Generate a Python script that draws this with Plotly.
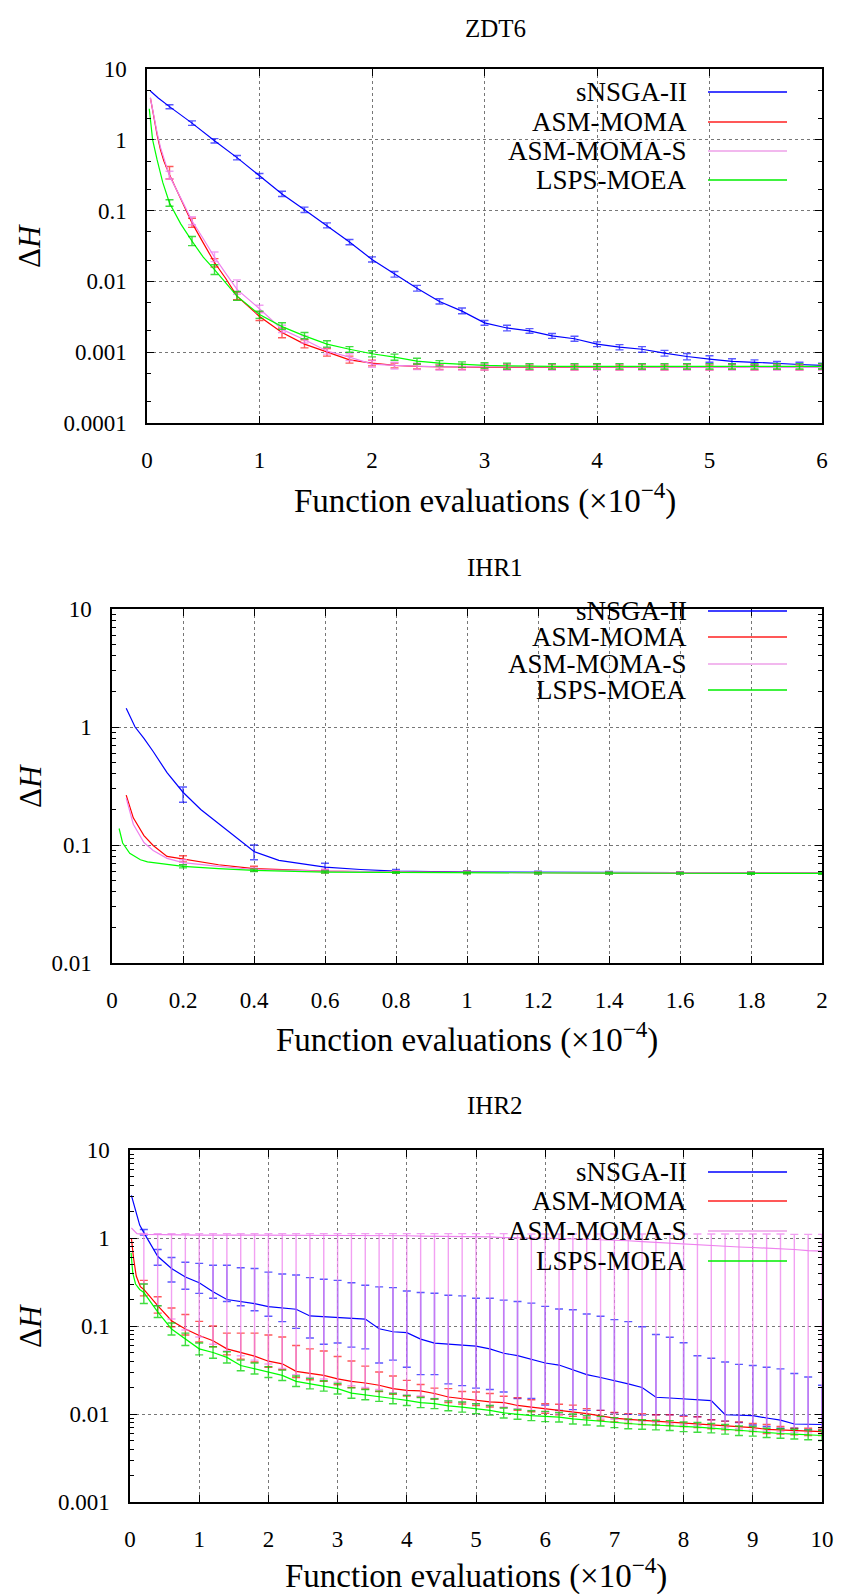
import plotly.graph_objects as go

# ---------------- DATA ----------------
SERIES = ["sNSGA-II", "ASM-MOMA", "ASM-MOMA-S", "LSPS-MOEA"]
TITLES = ["ZDT6", "IHR1", "IHR2"]

# ---- ZDT6 (x in 1e4 evaluations), error bars every 0.2
zdt6_bar_x = [0.2, 0.4, 0.6, 0.8, 1.0, 1.2, 1.4, 1.6, 1.8, 2.0, 2.2, 2.4, 2.6, 2.8, 3.0,
              3.2, 3.4, 3.6, 3.8, 4.0, 4.2, 4.4, 4.6, 4.8, 5.0, 5.2, 5.4, 5.6, 5.8, 6.0]
zdt6_blue_mid = [2.94, 1.72, 0.97, 0.56, 0.31, 0.172, 0.103, 0.0615, 0.036, 0.0204, 0.0126, 0.008, 0.0052, 0.0038, 0.0026,
                 0.0022, 0.002, 0.0017, 0.00155, 0.0013, 0.00118, 0.0011, 0.00097, 0.00087, 0.0008, 0.00074, 0.00072, 0.00069, 0.00067, 0.00065]
zdt6_blue_lo = [2.75, 1.6, 0.9, 0.52, 0.285, 0.158, 0.094, 0.057, 0.033, 0.0188, 0.0115, 0.0073, 0.0048, 0.0035, 0.0024,
                0.002, 0.00185, 0.00157, 0.00143, 0.0012, 0.00108, 0.001, 0.00088, 0.00078, 0.00072, 0.00067, 0.00066, 0.00064, 0.00062, 0.0006]
zdt6_blue_hi = [3.12, 1.85, 1.04, 0.6, 0.335, 0.188, 0.112, 0.067, 0.039, 0.0222, 0.0138, 0.0088, 0.0057, 0.0042, 0.0028,
                0.0024, 0.00215, 0.00184, 0.00168, 0.0014, 0.00128, 0.0012, 0.00106, 0.00096, 0.00089, 0.00081, 0.00078, 0.00074, 0.00072, 0.0007]
zdt6_blue_ex_x = [0.03, 0.1]
zdt6_blue_ex_y = [4.9, 3.9]

zdt6_red_mid = [0.32, 0.067, 0.0185, 0.0062, 0.0032, 0.0019, 0.0013, 0.001, 0.00078, 0.0007, 0.00065, 0.00063, 0.00062, 0.00062, 0.00061,
                0.00061, 0.00061, 0.00061, 0.00061, 0.00061, 0.00061, 0.00061, 0.00061, 0.00061, 0.00061, 0.00061, 0.00061, 0.00061, 0.00061, 0.00061]
zdt6_red_lo = [0.28, 0.058, 0.016, 0.0055, 0.0028, 0.0016, 0.00115, 0.00088, 0.0007, 0.00064, 0.0006, 0.00058, 0.00057, 0.00057, 0.00056,
               0.00057, 0.00056, 0.00057, 0.00056, 0.00057, 0.00056, 0.00057, 0.00056, 0.00057, 0.00056, 0.00057, 0.00056, 0.00057, 0.00056, 0.00057]
zdt6_red_hi = [0.42, 0.078, 0.021, 0.0071, 0.0037, 0.0022, 0.0015, 0.00113, 0.00088, 0.00077, 0.0007, 0.00068, 0.00067, 0.00067, 0.00066,
               0.00067, 0.00066, 0.00067, 0.00066, 0.00067, 0.00066, 0.00067, 0.00066, 0.00067, 0.00066, 0.00067, 0.00066, 0.00067, 0.00066, 0.00067]
zdt6_red_ex_x = [0.03, 0.06, 0.09, 0.12, 0.15, 0.3, 0.5, 0.7]
zdt6_red_ex_y = [3.9, 2.0, 1.17, 0.72, 0.5, 0.143, 0.035, 0.011]

zdt6_pink_mid = [0.31, 0.072, 0.022, 0.0077, 0.0041, 0.0021, 0.0015, 0.00104, 0.00085, 0.00068, 0.00065, 0.00063, 0.00062, 0.00062, 0.00062,
                 0.00062, 0.00061, 0.00061, 0.00061, 0.00061, 0.00061, 0.00061, 0.00061, 0.00061, 0.00061, 0.00061, 0.00061, 0.00061, 0.00061, 0.00061]
zdt6_pink_lo = [0.28, 0.063, 0.019, 0.0066, 0.0036, 0.0019, 0.00135, 0.00094, 0.00076, 0.00061, 0.00058, 0.00057, 0.00056, 0.00056, 0.00056,
                0.00056, 0.00056, 0.00056, 0.00056, 0.00056, 0.00056, 0.00056, 0.00056, 0.00056, 0.00056, 0.00056, 0.00056, 0.00056, 0.00056, 0.00056]
zdt6_pink_hi = [0.36, 0.082, 0.026, 0.0105, 0.0046, 0.0024, 0.0017, 0.00116, 0.00095, 0.00076, 0.00072, 0.0007, 0.00068, 0.00068, 0.00068,
                0.00068, 0.00068, 0.00068, 0.00068, 0.00068, 0.00068, 0.00068, 0.00068, 0.00068, 0.00068, 0.00068, 0.00068, 0.00068, 0.00068, 0.00068]
zdt6_pink_ex_x = [0.03, 0.06, 0.09, 0.12, 0.15, 0.3, 0.5, 0.7]
zdt6_pink_ex_y = [3.9, 2.1, 1.25, 0.78, 0.55, 0.15, 0.04, 0.013]

zdt6_green_mid = [0.128, 0.037, 0.0147, 0.0062, 0.0034, 0.0023, 0.0017, 0.0013, 0.0011, 0.00095, 0.00085, 0.00075, 0.0007, 0.00067, 0.00065,
                  0.00064, 0.00063, 0.00063, 0.00063, 0.00063, 0.00063, 0.00063, 0.00063, 0.00063, 0.00063, 0.00063, 0.00063, 0.00063, 0.00063, 0.00063]
zdt6_green_lo = [0.115, 0.032, 0.0125, 0.0054, 0.003, 0.0021, 0.00155, 0.00118, 0.001, 0.00086, 0.00077, 0.00068, 0.00064, 0.00061, 0.00059,
                 0.00058, 0.00058, 0.00058, 0.00058, 0.00058, 0.00058, 0.00058, 0.00058, 0.00058, 0.00058, 0.00058, 0.00058, 0.00058, 0.00058, 0.00058]
zdt6_green_hi = [0.142, 0.043, 0.0172, 0.0072, 0.0038, 0.0026, 0.0019, 0.00145, 0.0012, 0.00105, 0.00094, 0.00082, 0.00076, 0.00073, 0.00071,
                 0.0007, 0.00069, 0.00069, 0.00069, 0.00069, 0.00069, 0.00069, 0.00069, 0.00069, 0.00069, 0.00069, 0.00069, 0.00069, 0.00069, 0.00069]
zdt6_green_ex_x = [0.02, 0.05, 0.09, 0.14, 0.3, 0.5, 0.7]
zdt6_green_ex_y = [2.75, 1.0, 0.52, 0.25, 0.065, 0.022, 0.0095]

# ---- IHR1, error bars every 0.2
ihr1_bar_x = [0.2, 0.4, 0.6, 0.8, 1.0, 1.2, 1.4, 1.6, 1.8, 2.0]
ihr1_blue_mid = [0.28, 0.088, 0.065, 0.06, 0.059, 0.0588, 0.0585, 0.0583, 0.058, 0.058]
ihr1_blue_lo = [0.23, 0.075, 0.061, 0.058, 0.0575, 0.0575, 0.0573, 0.0572, 0.057, 0.057]
ihr1_blue_hi = [0.31, 0.1, 0.07, 0.062, 0.0605, 0.06, 0.0597, 0.0595, 0.059, 0.059]
ihr1_blue_ex_x = [0.04, 0.065, 0.09, 0.116, 0.155, 0.25, 0.31, 0.37, 0.47, 0.55, 0.7]
ihr1_blue_ex_y = [1.44, 1.0, 0.8, 0.62, 0.41, 0.2, 0.143, 0.103, 0.074, 0.068, 0.062]
ihr1_red_mid = [0.076, 0.063, 0.06, 0.059, 0.0585, 0.0583, 0.058, 0.058, 0.058, 0.058]
ihr1_red_lo = [0.072, 0.06, 0.058, 0.0575, 0.0572, 0.057, 0.057, 0.057, 0.057, 0.057]
ihr1_red_hi = [0.081, 0.066, 0.062, 0.0605, 0.06, 0.0595, 0.059, 0.059, 0.059, 0.059]
ihr1_red_ex_x = [0.04, 0.06, 0.09, 0.116, 0.155, 0.3]
ihr1_red_ex_y = [0.265, 0.17, 0.12, 0.099, 0.08, 0.068]
ihr1_pink_mid = [0.071, 0.062, 0.06, 0.059, 0.0585, 0.0583, 0.058, 0.058, 0.058, 0.058]
ihr1_pink_lo = [0.068, 0.06, 0.058, 0.0575, 0.0572, 0.057, 0.057, 0.057, 0.057, 0.057]
ihr1_pink_hi = [0.075, 0.064, 0.062, 0.0605, 0.06, 0.0595, 0.059, 0.059, 0.059, 0.059]
ihr1_pink_ex_x = [0.04, 0.06, 0.09, 0.116, 0.155, 0.3]
ihr1_pink_ex_y = [0.25, 0.15, 0.105, 0.09, 0.077, 0.066]
ihr1_green_mid = [0.066, 0.061, 0.059, 0.0585, 0.058, 0.0578, 0.0577, 0.0576, 0.0575, 0.0575]
ihr1_green_lo = [0.064, 0.0595, 0.0578, 0.0575, 0.057, 0.0568, 0.0567, 0.0566, 0.0565, 0.0565]
ihr1_green_hi = [0.068, 0.0625, 0.0602, 0.0595, 0.059, 0.0588, 0.0587, 0.0586, 0.0585, 0.0585]
ihr1_green_ex_x = [0.02, 0.03, 0.05, 0.08, 0.1, 0.3]
ihr1_green_ex_y = [0.138, 0.104, 0.085, 0.075, 0.072, 0.063]

# ---- IHR2, error bars every 0.2
ihr2_bar_x = [0.2, 0.4, 0.6, 0.8, 1.0, 1.2, 1.4, 1.6, 1.8, 2.0, 2.2, 2.4, 2.6, 2.8, 3.0, 3.2, 3.4, 3.6, 3.8, 4.0,
              4.2, 4.4, 4.6, 4.8, 5.0, 5.2, 5.4, 5.6, 5.8, 6.0, 6.2, 6.4, 6.6, 6.8, 7.0, 7.2, 7.4, 7.6, 7.8, 8.0,
              8.2, 8.4, 8.6, 8.8, 9.0, 9.2, 9.4, 9.6, 9.8, 10.0]
ihr2_blue_mid = [1.15, 0.62, 0.45, 0.36, 0.31, 0.245, 0.2, 0.19, 0.18, 0.166, 0.16, 0.155, 0.13, 0.128, 0.126, 0.124, 0.12, 0.093, 0.086, 0.084,
                 0.071, 0.064, 0.062, 0.06, 0.059, 0.055, 0.049, 0.046, 0.042, 0.038, 0.036, 0.032, 0.028, 0.026, 0.024, 0.022, 0.02, 0.0155, 0.0152, 0.0148,
                 0.0145, 0.0142, 0.0098, 0.0097, 0.0096, 0.009, 0.0085, 0.0077, 0.0076, 0.0076]
ihr2_blue_hi = [1.25, 0.74, 0.60, 0.53, 0.515, 0.49, 0.49, 0.46, 0.45, 0.41, 0.39, 0.38, 0.355, 0.34, 0.33, 0.31, 0.29, 0.278, 0.273, 0.25,
                0.24, 0.236, 0.224, 0.22, 0.207, 0.207, 0.197, 0.19, 0.182, 0.167, 0.156, 0.153, 0.137, 0.129, 0.118, 0.112, 0.098, 0.08, 0.0745, 0.0645,
                0.046, 0.043, 0.039, 0.0366, 0.0356, 0.034, 0.0326, 0.0288, 0.0263, 0.0212]
ihr2_blue_lo = [1.08, 0.49, 0.316, 0.262, 0.235, 0.207, 0.19, 0.17, 0.149, 0.129, 0.112, 0.094, 0.073, 0.062, 0.064, 0.0575, 0.055, 0.038, 0.041, 0.034,
                0.028, 0.028, 0.022, 0.021, 0.0197, 0.019, 0.0178, 0.015, 0.015, 0.0126, 0.011, 0.0112, 0.011, 0.011, 0.0103, 0.0099, 0.0097, 0.0098, 0.0098, 0.0096,
                0.0093, 0.0086, 0.0083, 0.008, 0.0075, 0.0072, 0.0069, 0.0069, 0.0066, 0.0065]
ihr2_blue_ex_x = [0.02, 0.08, 0.14]
ihr2_blue_ex_y = [3.05, 2.0, 1.4]

ihr2_red_mid = [0.26, 0.17, 0.115, 0.0925, 0.078, 0.068, 0.055, 0.0495, 0.0454, 0.0398, 0.0372, 0.0305, 0.0287, 0.0275, 0.0251, 0.0235, 0.0225, 0.0212, 0.0194, 0.0186,
                0.0183, 0.0171, 0.0156, 0.015, 0.0143, 0.0137, 0.0135, 0.0125, 0.012, 0.0115, 0.011, 0.0105, 0.0101, 0.0095, 0.009, 0.0087, 0.0085, 0.0083, 0.0082, 0.008,
                0.0078, 0.0076, 0.0074, 0.0072, 0.007, 0.0067, 0.0066, 0.0065, 0.0064, 0.0063]
ihr2_red_hi = [0.33, 0.215, 0.16, 0.135, 0.113, 0.1, 0.083, 0.083, 0.083, 0.079, 0.075, 0.06, 0.055, 0.052, 0.045, 0.04, 0.035, 0.03, 0.027, 0.0241,
               0.0216, 0.0197, 0.0194, 0.018, 0.0178, 0.0171, 0.0159, 0.0153, 0.0145, 0.0131, 0.0129, 0.0126, 0.0115, 0.011, 0.0104, 0.0101, 0.0101, 0.0098, 0.0098, 0.0094,
               0.0093, 0.0086, 0.0083, 0.0081, 0.0078, 0.0076, 0.0072, 0.0069, 0.0069, 0.0067]
ihr2_red_lo = [0.22, 0.14, 0.098, 0.079, 0.066, 0.058, 0.047, 0.042, 0.039, 0.034, 0.032, 0.026, 0.0245, 0.0235, 0.0215, 0.02, 0.0192, 0.018, 0.0167, 0.016,
               0.0157, 0.0147, 0.0135, 0.013, 0.0125, 0.012, 0.0118, 0.011, 0.0106, 0.0102, 0.0098, 0.0094, 0.009, 0.0085, 0.0081, 0.0078, 0.0076, 0.0075, 0.0074, 0.0072,
               0.007, 0.0068, 0.0066, 0.0065, 0.0063, 0.006, 0.0059, 0.0058, 0.0057, 0.0057]
ihr2_red_ex_x = [0.02, 0.05, 0.09, 0.15]
ihr2_red_ex_y = [1.0, 0.6, 0.37, 0.28]

ihr2_pink_mid = [1.1, 1.09, 1.09, 1.08, 1.08, 1.08, 1.08, 1.07, 1.07, 1.07, 1.07, 1.07, 1.07, 1.06, 1.06, 1.06, 1.06, 1.06, 1.06, 1.06,
                 1.05, 1.05, 1.05, 1.05, 1.05, 1.03, 1.01, 1.0, 1.0, 1.0, 0.99, 0.98, 0.97, 0.96, 0.95, 0.93, 0.91, 0.89, 0.87, 0.86,
                 0.84, 0.82, 0.81, 0.79, 0.78, 0.77, 0.75, 0.74, 0.72, 0.71]
ihr2_pink_hi = [1.13, 1.12, 1.12, 1.12, 1.12, 1.12, 1.12, 1.12, 1.12, 1.12, 1.12, 1.12, 1.12, 1.12, 1.12, 1.12, 1.12, 1.12, 1.12, 1.12,
                1.12, 1.12, 1.12, 1.12, 1.12, 1.12, 1.12, 1.11, 1.11, 1.11, 1.11, 1.11, 1.11, 1.11, 1.11, 1.11, 1.11, 1.11, 1.11, 1.11,
                1.11, 1.11, 1.11, 1.11, 1.11, 1.11, 1.11, 1.1, 1.1, 1.1]
ihr2_pink_lo = [0.3, 0.17, 0.12, 0.09, 0.075, 0.062, 0.052, 0.046, 0.041, 0.037, 0.033, 0.028, 0.026, 0.025, 0.023, 0.021, 0.02, 0.019, 0.0175, 0.0165,
                0.016, 0.015, 0.014, 0.0135, 0.013, 0.0125, 0.012, 0.0115, 0.011, 0.0105, 0.01, 0.0097, 0.0094, 0.009, 0.0087, 0.0084, 0.0082, 0.008, 0.0078, 0.0076,
                0.0074, 0.0072, 0.007, 0.0068, 0.0066, 0.0064, 0.0063, 0.0062, 0.0061, 0.006]
ihr2_pink_ex_x = [0.02, 0.1]
ihr2_pink_ex_y = [1.3, 1.12]

ihr2_green_mid = [0.24, 0.145, 0.0925, 0.071, 0.055, 0.05, 0.044, 0.0356, 0.0327, 0.030, 0.0275, 0.0235, 0.0221, 0.0208, 0.0194, 0.0173, 0.0166, 0.0159, 0.015, 0.0143,
                  0.0135, 0.0131, 0.0124, 0.012, 0.0115, 0.011, 0.0103, 0.0099, 0.0096, 0.0094, 0.0092, 0.0088, 0.0085, 0.0083, 0.008, 0.0078, 0.0076, 0.0075, 0.0074, 0.0072,
                  0.0071, 0.0069, 0.0067, 0.0065, 0.0064, 0.0061, 0.006, 0.0059, 0.0058, 0.0057]
ihr2_green_hi = [0.3, 0.17, 0.108, 0.083, 0.064, 0.058, 0.051, 0.041, 0.038, 0.0345, 0.0315, 0.027, 0.0254, 0.0239, 0.0222, 0.0198, 0.019, 0.0182, 0.0171, 0.0163,
                 0.0154, 0.0149, 0.0141, 0.0137, 0.0131, 0.0125, 0.0117, 0.0113, 0.0109, 0.0107, 0.0104, 0.01, 0.0096, 0.0094, 0.0091, 0.0088, 0.0086, 0.0085, 0.0084, 0.0081,
                 0.008, 0.0078, 0.0076, 0.0073, 0.0072, 0.0069, 0.0068, 0.0067, 0.0066, 0.0065]
ihr2_green_lo = [0.18, 0.125, 0.079, 0.06, 0.047, 0.043, 0.038, 0.031, 0.0285, 0.026, 0.024, 0.0205, 0.0193, 0.0182, 0.0169, 0.0151, 0.0145, 0.0139, 0.0131, 0.0125,
                 0.0118, 0.0115, 0.0109, 0.0105, 0.0101, 0.0097, 0.009, 0.0087, 0.0084, 0.0082, 0.0081, 0.0077, 0.0075, 0.0073, 0.007, 0.0068, 0.0067, 0.0066, 0.0065, 0.0063,
                 0.0062, 0.0061, 0.0059, 0.0057, 0.0056, 0.0054, 0.0053, 0.0052, 0.0051, 0.005]
ihr2_green_ex_x = [0.015, 0.04, 0.08, 0.14]
ihr2_green_ex_y = [0.68, 0.4, 0.3, 0.26]

zdt6_x_ticks = [0, 1, 2, 3, 4, 5, 6]
ihr1_x_ticks = [0, 0.2, 0.4, 0.6, 0.8, 1, 1.2, 1.4, 1.6, 1.8, 2]
ihr2_x_ticks = [0, 1, 2, 3, 4, 5, 6, 7, 8, 9, 10]
zdt6_y_ticks = [0.0001, 0.001, 0.01, 0.1, 1, 10]
ihr1_y_ticks = [0.01, 0.1, 1, 10]
ihr2_y_ticks = [0.001, 0.01, 0.1, 1, 10]

# ---------------- STYLE ----------------
W, H = 843, 1594
FONT = "Liberation Serif"
LINE_COL = ["#0000ff", "#ff0000", "#ee82ee", "#00ff00"]
BAR_COL = ["rgba(0,0,255,0.65)", "rgba(255,0,0,0.65)", "rgba(238,130,238,0.75)", "rgba(0,210,0,0.75)"]
LEG_COL = ["#0000ff", "#ff2020", "#f2b8ee", "#00ee00"]

# panel pixel boxes: (left, right, top, bottom)
BOXES = [(147, 822, 69, 423), (112, 822, 609, 963), (130, 822, 1150, 1502)]
TITLE_Y = [28, 567, 1105]
XTITLE_Y = [498, 1037, 1573]
LEGEND_ROWS = [[92, 122, 151, 180], [611, 637, 664, 690], [1172, 1201, 1231, 1261]]


def px(x):
    return x / W


def py(y):
    return 1 - y / H


def fmt_tick(v):
    return ("%.4f" % v).rstrip("0").rstrip(".")


panels = [
    dict(bar_x=zdt6_bar_x, xr=[0, 6], yr=[-4, 1], xt=zdt6_x_ticks, yt=zdt6_y_ticks, minor="D2",
         data=[(zdt6_blue_ex_x, zdt6_blue_ex_y, zdt6_blue_mid, zdt6_blue_lo, zdt6_blue_hi),
               (zdt6_red_ex_x, zdt6_red_ex_y, zdt6_red_mid, zdt6_red_lo, zdt6_red_hi),
               (zdt6_pink_ex_x, zdt6_pink_ex_y, zdt6_pink_mid, zdt6_pink_lo, zdt6_pink_hi),
               (zdt6_green_ex_x, zdt6_green_ex_y, zdt6_green_mid, zdt6_green_lo, zdt6_green_hi)]),
    dict(bar_x=ihr1_bar_x, xr=[0, 2], yr=[-2, 1], xt=ihr1_x_ticks, yt=ihr1_y_ticks, minor="D1",
         data=[(ihr1_blue_ex_x, ihr1_blue_ex_y, ihr1_blue_mid, ihr1_blue_lo, ihr1_blue_hi),
               (ihr1_red_ex_x, ihr1_red_ex_y, ihr1_red_mid, ihr1_red_lo, ihr1_red_hi),
               (ihr1_pink_ex_x, ihr1_pink_ex_y, ihr1_pink_mid, ihr1_pink_lo, ihr1_pink_hi),
               (ihr1_green_ex_x, ihr1_green_ex_y, ihr1_green_mid, ihr1_green_lo, ihr1_green_hi)]),
    dict(bar_x=ihr2_bar_x, xr=[0, 10], yr=[-3, 1], xt=ihr2_x_ticks, yt=ihr2_y_ticks, minor="D1",
         data=[(ihr2_blue_ex_x, ihr2_blue_ex_y, ihr2_blue_mid, ihr2_blue_lo, ihr2_blue_hi),
               (ihr2_red_ex_x, ihr2_red_ex_y, ihr2_red_mid, ihr2_red_lo, ihr2_red_hi),
               (ihr2_pink_ex_x, ihr2_pink_ex_y, ihr2_pink_mid, ihr2_pink_lo, ihr2_pink_hi),
               (ihr2_green_ex_x, ihr2_green_ex_y, ihr2_green_mid, ihr2_green_lo, ihr2_green_hi)]),
]

fig = go.Figure()
annotations = []
shapes = []

for p_i, p in enumerate(panels):
    sfx = "" if p_i == 0 else str(p_i + 1)
    xa, ya = "x" + sfx, "y" + sfx
    bx = p["bar_x"]
    for s_i, (ex_x, ex_y, mid, lo, hi) in enumerate(p["data"]):
        pts = sorted(zip(list(ex_x) + list(bx), list(ex_y) + list(mid)))
        fig.add_trace(go.Scatter(
            x=[a for a, _ in pts], y=[b for _, b in pts], mode="lines",
            line=dict(color=LINE_COL[s_i], width=1.2), xaxis=xa, yaxis=ya,
            showlegend=False, name=SERIES[s_i], hoverinfo="skip"))
        fig.add_trace(go.Scatter(
            x=bx, y=mid, mode="markers", marker=dict(size=1, opacity=0),
            error_y=dict(type="data", symmetric=False,
                         array=[h - m for h, m in zip(hi, mid)],
                         arrayminus=[m - l for m, l in zip(mid, lo)],
                         color=BAR_COL[s_i], thickness=1.4, width=4),
            xaxis=xa, yaxis=ya, showlegend=False, hoverinfo="skip"))

    l, r, t, b = BOXES[p_i]
    common = dict(showline=True, linecolor="black", linewidth=1.5, mirror="ticks",
                  ticks="inside", ticklen=7, tickwidth=1.2, tickcolor="black",
                  showgrid=True, gridcolor="#777777", griddash="dot", gridwidth=1,
                  zeroline=False, automargin=False,
                  tickfont=dict(family=FONT, size=23, color="black"))
    xaxis = dict(common, domain=[px(l), px(r)], range=p["xr"], anchor=ya,
                 tickmode="array", tickvals=p["xt"], ticktext=[fmt_tick(v) for v in p["xt"]],
                 ticklabelstandoff=16)
    yaxis = dict(common, domain=[py(b), py(t)], type="log", range=p["yr"], anchor=xa,
                 tickmode="array", tickvals=p["yt"], ticktext=[fmt_tick(v) for v in p["yt"]],
                 ticklabelstandoff=14,
                 minor=dict(dtick=p["minor"], ticks="inside", ticklen=4, tickcolor="black",
                            tickwidth=1, showgrid=False))
    fig.update_layout(**{"xaxis" + sfx: xaxis, "yaxis" + sfx: yaxis})

    annotations.append(dict(x=px(495), y=py(TITLE_Y[p_i]), xref="paper", yref="paper",
                            text=TITLES[p_i], showarrow=False, xanchor="center", yanchor="middle",
                            font=dict(family=FONT, size=25, color="black")))
    annotations.append(dict(x=px((l + r) / 2), y=py(XTITLE_Y[p_i]), xref="paper", yref="paper",
                            text="Function evaluations (×10<sup>−4</sup>)", showarrow=False,
                            xanchor="center", yanchor="middle",
                            font=dict(family=FONT, size=33, color="black")))
    annotations.append(dict(x=px(30), y=py((t + b) / 2), xref="paper", yref="paper",
                            text="Δ<i>H</i>", showarrow=False, textangle=-90,
                            xanchor="center", yanchor="middle",
                            font=dict(family=FONT, size=31, color="black")))
    for s_i, ry in enumerate(LEGEND_ROWS[p_i]):
        annotations.append(dict(x=px(689), y=py(ry), xref="paper", yref="paper",
                                text=SERIES[s_i], showarrow=False, xanchor="right", yanchor="middle",
                                font=dict(family=FONT, size=27, color="black")))
        shapes.append(dict(type="line", xref="paper", yref="paper",
                           x0=px(708), x1=px(787), y0=py(ry), y1=py(ry),
                           line=dict(color=LEG_COL[s_i], width=1.6 if s_i != 2 else 2.2)))

fig.update_layout(width=W, height=H, margin=dict(l=0, r=0, t=0, b=0, autoexpand=False),
                  paper_bgcolor="white", plot_bgcolor="white",
                  annotations=annotations, shapes=shapes, showlegend=False)

fig.write_html("out.html", config={"displayModeBar": False},
               post_script="document.body.style.margin='0';document.body.style.overflow='hidden';")
